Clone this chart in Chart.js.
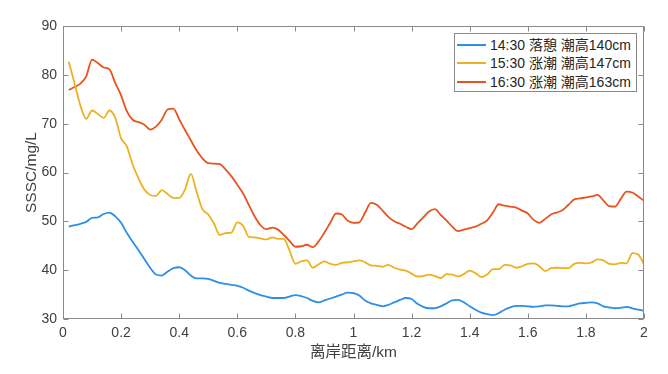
<!DOCTYPE html>
<html>
<head>
<meta charset="utf-8">
<script src="https://cdn.jsdelivr.net/npm/chart.js@4"></script>
<style>
  html, body { margin: 0; padding: 0; background: #fff; }
  #wrap { position: relative; width: 668px; height: 374px; }
  #legend {
    position: absolute; left: 454px; top: 33px; width: 183px; height: 59px;
    border: 1px solid #8a8a8a; background: #fff; box-sizing: border-box;
    font-family: "Liberation Sans", "Noto Sans CJK SC", sans-serif; font-size: 14px; color: #262626;
    padding-top: 2px;
  }
  #legend .row { height: 18.3px; line-height: 18px; display: flex; align-items: center; white-space: nowrap; }
  #legend .swatch { width: 29px; height: 2px; margin: 0 4px 0 2px; }
</style>
</head>
<body>
<div id="wrap">
  <canvas id="sscChart" width="668" height="374"></canvas>
  <div id="legend"></div>
</div>
<script>
// distance from shore (km)
const distance = [0.02, 0.04, 0.06, 0.08, 0.10, 0.12, 0.14, 0.16, 0.18, 0.20,
  0.22, 0.24, 0.26, 0.28, 0.30, 0.32, 0.34, 0.36, 0.38, 0.40,
  0.42, 0.44, 0.46, 0.48, 0.50, 0.52, 0.54, 0.56, 0.58, 0.60,
  0.62, 0.64, 0.66, 0.68, 0.70, 0.72, 0.74, 0.76, 0.78, 0.80,
  0.82, 0.84, 0.86, 0.88, 0.90, 0.92, 0.94, 0.96, 0.98, 1.00,
  1.02, 1.04, 1.06, 1.08, 1.10, 1.12, 1.14, 1.16, 1.18, 1.20,
  1.22, 1.24, 1.26, 1.28, 1.30, 1.32, 1.34, 1.36, 1.38, 1.40,
  1.42, 1.44, 1.46, 1.48, 1.50, 1.52, 1.54, 1.56, 1.58, 1.60,
  1.62, 1.64, 1.66, 1.68, 1.70, 1.72, 1.74, 1.76, 1.78, 1.80,
  1.82, 1.84, 1.86, 1.88, 1.90, 1.92, 1.94, 1.96, 1.98, 2.00];

// 14:30 slack water, tide height 140cm
const ssc1430 = [48.9, 49.2, 49.5, 49.9, 50.7, 50.8, 51.5, 51.8, 51.0, 49.7,
  47.6, 45.8, 44.1, 42.3, 40.5, 39.1, 38.9, 39.7, 40.4, 40.6,
  40.0, 38.9, 38.3, 38.3, 38.2, 37.8, 37.4, 37.2, 37.0, 36.8,
  36.4, 35.8, 35.3, 34.9, 34.6, 34.3, 34.3, 34.3, 34.6, 34.9,
  34.7, 34.3, 33.7, 33.4, 33.8, 34.2, 34.6, 35.0, 35.4, 35.3,
  34.8, 33.8, 33.2, 32.9, 32.6, 32.9, 33.4, 33.9, 34.3, 34.1,
  33.1, 32.5, 32.2, 32.2, 32.6, 33.2, 33.8, 33.9, 33.4, 32.6,
  31.9, 31.3, 31.0, 30.8, 31.2, 31.9, 32.4, 32.7, 32.7, 32.6,
  32.5, 32.6, 32.8, 32.8, 32.7, 32.6, 32.6, 32.9, 33.2, 33.3,
  33.4, 33.2, 32.6, 32.4, 32.2, 32.3, 32.5, 32.2, 31.9, 31.7];

// 15:30 flood tide, tide height 147cm
const ssc1530 = [82.7, 78.2, 73.7, 71.0, 72.7, 72.0, 71.2, 72.7, 71.2, 67.0,
  65.3, 61.6, 58.8, 56.5, 55.4, 55.2, 56.4, 55.6, 54.8, 54.8,
  56.5, 59.7, 56.0, 52.5, 51.4, 49.5, 47.2, 47.6, 47.7, 49.8,
  49.1, 46.8, 46.7, 46.5, 46.3, 46.7, 46.4, 46.4, 44.0, 41.3,
  41.8, 42.0, 40.5, 41.2, 41.8, 41.3, 41.1, 41.5, 41.6, 41.8,
  42.0, 41.6, 41.0, 40.9, 40.7, 41.1, 40.5, 40.1, 39.9, 39.3,
  38.7, 38.8, 39.1, 38.8, 38.4, 39.2, 39.1, 38.7, 39.2, 39.9,
  39.4, 38.6, 39.1, 40.2, 40.2, 41.1, 41.0, 40.5, 40.8, 41.3,
  41.4, 40.8, 39.8, 40.4, 40.5, 40.4, 40.4, 41.3, 41.5, 41.4,
  41.6, 42.2, 42.0, 41.3, 41.2, 41.5, 41.4, 43.5, 43.2, 41.2];

// 16:30 flood tide, tide height 163cm
const ssc1630 = [76.9, 77.5, 78.2, 79.7, 83.1, 82.4, 81.5, 81.1, 78.3, 75.8,
  72.5, 70.8, 70.3, 69.8, 68.8, 69.4, 70.8, 72.9, 73.1, 70.9,
  68.7, 66.6, 64.5, 62.9, 61.9, 61.8, 61.7, 60.6, 59.2, 57.5,
  55.7, 53.3, 51.0, 49.2, 48.4, 48.7, 48.3, 47.2, 46.0, 44.8,
  44.9, 45.2, 44.7, 45.9, 47.7, 49.7, 51.6, 51.4, 50.1, 49.7,
  49.8, 51.8, 53.8, 53.4, 52.2, 50.9, 50.0, 49.5, 48.9, 48.4,
  49.6, 50.8, 52.0, 52.5, 51.3, 50.2, 48.9, 48.0, 48.3, 48.6,
  48.9, 49.5, 50.2, 51.8, 53.5, 53.2, 53.0, 52.8, 52.2, 51.6,
  50.3, 49.7, 50.5, 51.4, 51.8, 52.3, 53.4, 54.5, 54.7, 54.9,
  55.1, 55.4, 54.3, 53.1, 53.0, 54.6, 56.1, 55.9, 55.1, 54.2];

const seriesNames = ['14:30 落憩 潮高140cm', '15:30 涨潮 潮高147cm', '16:30 涨潮 潮高163cm'];
const seriesColors = ['#2f8fe6', '#edb120', '#e8531f'];
const xTicks = [0, 0.2, 0.4, 0.6, 0.8, 1, 1.2, 1.4, 1.6, 1.8, 2];
const yTicks = [30, 40, 50, 60, 70, 80, 90];

const font = "'Liberation Sans', 'Noto Sans CJK SC', sans-serif";
const boxColor = '#8a8a8a';

function toPoints(values) {
    return distance.map((d, i) => ({ x: d, y: values[i] }));
}

// MATLAB style box with inward ticks on all four sides
const boxPlugin = {
    id: 'boxPlugin',
    afterDatasetsDraw(chart) {
        const { ctx, chartArea: a, scales } = chart;
        const L = Math.round(a.left) + 0.5, R = Math.round(a.right) - 0.5;
        const T = Math.round(a.top) + 0.5, B = Math.round(a.bottom) - 0.5;
        ctx.save();
        ctx.strokeStyle = boxColor;
        ctx.lineWidth = 1;
        ctx.strokeRect(L, T, R - L, B - T);
        ctx.beginPath();
        xTicks.forEach(v => {
            const px = Math.round(scales.x.getPixelForValue(v)) + 0.5;
            ctx.moveTo(px, B); ctx.lineTo(px, B - 5);
            ctx.moveTo(px, T); ctx.lineTo(px, T + 5);
        });
        yTicks.forEach(v => {
            const py = Math.round(scales.y.getPixelForValue(v)) + 0.5;
            ctx.moveTo(L, py); ctx.lineTo(L + 5, py);
            ctx.moveTo(R, py); ctx.lineTo(R - 5, py);
        });
        ctx.stroke();
        ctx.restore();
    }
};

const ctx = document.getElementById('sscChart').getContext('2d');
const sscChart = new Chart(ctx, {
    type: 'line',
    data: {
        datasets: [ssc1430, ssc1530, ssc1630].map((vals, i) => ({
            label: seriesNames[i],
            data: toPoints(vals),
            borderColor: seriesColors[i],
            borderWidth: 1.8,
            pointRadius: 0,
            tension: 0.25,
            cubicInterpolationMode: 'monotone',
            fill: false
        }))
    },
    options: {
        responsive: false,
        animation: false,
        devicePixelRatio: 1,
        layout: { padding: { left: 0, top: 26, right: 24, bottom: 0 } },
        plugins: { legend: { display: false }, tooltip: { enabled: false } },
        scales: {
            x: {
                type: 'linear',
                min: 0, max: 2,
                afterBuildTicks: scale => { scale.ticks = xTicks.map(v => ({ value: v })); },
                afterFit: scale => { scale.height = 55; },
                grid: { display: false, drawTicks: false },
                border: { display: false },
                ticks: {
                    color: '#404040', padding: 6,
                    font: { family: font, size: 14 },
                    maxRotation: 0,
                    callback: v => String(Number(v.toFixed(1)))
                },
                title: {
                    display: true, text: '离岸距离/km', color: '#404040',
                    font: { family: font, size: 15.5 }, padding: { top: 0, bottom: 12 }
                }
            },
            y: {
                min: 30, max: 90,
                afterBuildTicks: scale => { scale.ticks = yTicks.map(v => ({ value: v })); },
                afterFit: scale => { scale.width = 63; },
                grid: { display: false, drawTicks: false },
                border: { display: false },
                ticks: {
                    color: '#404040', padding: 6,
                    font: { family: font, size: 14 }
                },
                title: {
                    display: true, text: 'SSSC/mg/L', color: '#404040',
                    font: { family: font, size: 15.5 }, padding: { top: 22, bottom: 0 }
                }
            }
        }
    },
    plugins: [boxPlugin]
});

// Legend inside the axes, top right
const legendBox = document.getElementById('legend');
seriesNames.forEach((name, i) => {
    const row = document.createElement('div');
    row.className = 'row';
    row.innerHTML = `<span class="swatch" style="background:${seriesColors[i]}"></span><span>${name}</span>`;
    legendBox.appendChild(row);
});
</script>
</body>
</html>
